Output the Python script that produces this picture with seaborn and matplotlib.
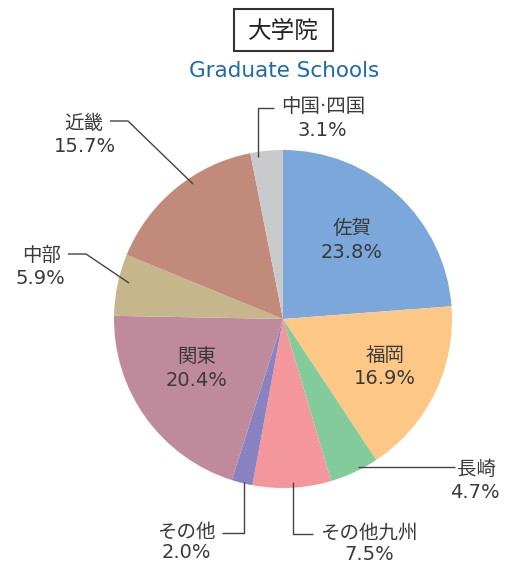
import matplotlib
matplotlib.use("Agg")
import matplotlib.pyplot as plt
from matplotlib.patches import Rectangle
import seaborn as sns

# ---- data ----
categories = ["佐賀", "福岡", "長崎", "その他九州", "その他", "関東", "中部", "近畿", "中国·四国"]
shares = [23.8, 16.9, 4.7, 7.5, 2.0, 20.4, 5.9, 15.7, 3.1]
colors = ["#7ba7da", "#fdc886", "#83cb9b", "#f4979d", "#8882c0",
          "#c08a9d", "#c5b68c", "#c18a7b", "#c8c9cb"]
title_ja = "大学院"
title_en = "Graduate Schools"

sns.set_theme(style="white")
plt.rcParams['font.family'] = ['DejaVu Sans', 'Noto Sans CJK JP']

W, H = 512, 565
fig = plt.figure(figsize=(W / 100, H / 100), dpi=100)
ax = fig.add_axes([0, 0, 1, 1])

def P(x, y):
    return x, H - y

cx, cy = P(283, 319)
R = 169
ax.pie(shares, colors=colors, startangle=90, counterclock=False,
       center=(cx, cy), radius=R, frame=True,
       wedgeprops=dict(linewidth=0))
ax.set_xlim(0, W)
ax.set_ylim(0, H)
ax.set_aspect("equal")
ax.axis("off")

txt_color = "#3a3a3a"
line_color = "#444444"
fs = 14

# label layout: (name x, name y, pct x, pct y, leader path)
layout = {
    "佐賀": (352, 229, 352, 253, None),
    "福岡": (385, 355, 385, 378, None),
    "関東": (197, 356, 197, 381, None),
    "近畿": (84, 123, 85, 146, [(110, 121), (128, 121), (193, 184)]),
    "中部": (42, 255, 40, 279, [(68, 254), (86, 254), (129, 283)]),
    "中国·四国": (323, 107, 322, 130, [(274, 108), (258, 108), (258, 157)]),
    "長崎": (476, 469, 475, 492, [(455, 467), (358, 467)]),
    "その他九州": (369, 533, 369, 554, [(313, 534), (293, 534), (293, 482)]),
    "その他": (186, 532, 186, 553, [(222, 533), (244, 533), (244, 482)]),
}

for cat, val in zip(categories, shares):
    nx, ny, px, py, path = layout[cat]
    ax.text(*P(nx, ny), cat, ha="center", va="center", fontsize=fs, color=txt_color)
    ax.text(*P(px, py), f"{val:.1f}%", ha="center", va="center", fontsize=fs,
            color=txt_color)
    if path:
        xs = [p[0] for p in path]
        ys = [H - p[1] for p in path]
        ax.plot(xs, ys, color=line_color, lw=1.0, solid_capstyle="butt")

# titles
ax.add_patch(Rectangle(P(234, 51), 99, 42, fill=False, ec="#333333", lw=1.5))
ax.text(*P(283, 31), title_ja, ha="center", va="center", fontsize=17, color="#222222")
ax.text(*P(284, 71), title_en, ha="center", va="center", fontsize=15.5, color="#1a6aad")

fig.savefig("out.png", dpi=100)
